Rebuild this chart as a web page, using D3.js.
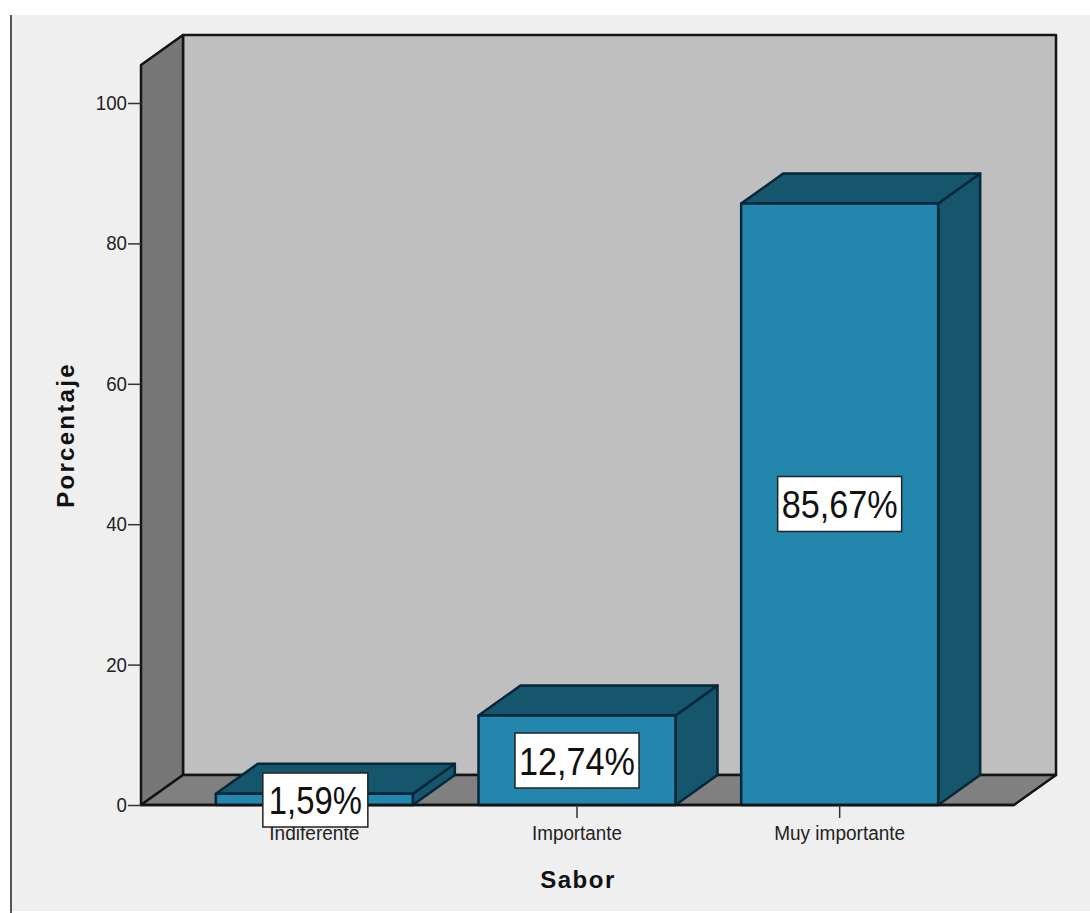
<!DOCTYPE html>
<html><head><meta charset="utf-8">
<script src="https://cdnjs.cloudflare.com/ajax/libs/d3/7.8.5/d3.min.js"></script>
<style>html,body{margin:0;padding:0;background:#fff}svg{display:block}</style></head>
<body><svg id="c" width="1090" height="913"></svg>
<script>
const categories = ["Indiferente","Importante","Muy importante"];
const values = [1.59,12.74,85.67];
const valueLabels = ["1,59%","12,74%","85,67%"];
const yTicks = [0,20,40,60,80,100];
const xTitle = "Sabor", yTitle = "Porcentaje";

const W=1090,H=913,dx=42,dy=-30,x0=141,x1=1014,yBase=805,yTop=65;
const font="'Liberation Sans',Arial,sans-serif";
const svg=d3.select("#c");
const y=d3.scaleLinear().domain([0,100]).range([805,103]);
const x=d3.scaleBand().domain(categories).range([183,971]).paddingInner(.25).paddingOuter(.125);
const stroke="#141414", line=d3.line();
const poly=(pts,fill,s=stroke,w=2.5)=>svg.append("path").attr("d",line(pts)+"Z").attr("fill",fill).attr("stroke",s).attr("stroke-width",w).attr("stroke-linejoin","round");

svg.append("rect").attr("x",12).attr("y",15).attr("width",W-12).attr("height",H-17).attr("fill","#efefef");
svg.append("line").attr("x1",11).attr("x2",11).attr("y1",15).attr("y2",H).attr("stroke","#555").attr("stroke-width",2);

// walls and floor
poly([[x0+dx,yTop+dy],[x1+dx,yTop+dy],[x1+dx,yBase+dy],[x0+dx,yBase+dy]],"#bfbfbf");
poly([[x0,yTop],[x0+dx,yTop+dy],[x0+dx,yBase+dy],[x0,yBase]],"#777777");
poly([[x0,yBase],[x0+dx,yBase+dy],[x1+dx,yBase+dy],[x1,yBase]],"#808080");

// bars
const bs="#06263a";
categories.forEach((c,i)=>{
  const l=x(c),r=l+x.bandwidth(),t=y(values[i]),b=y(0);
  poly([[r,t],[r+dx,t+dy],[r+dx,b+dy],[r,b]],"#15566d",bs);
  poly([[l,t],[l+dx,t+dy],[r+dx,t+dy],[r,t]],"#15566d",bs);
  poly([[l,t],[r,t],[r,b],[l,b]],"#2387ad",bs);
});
svg.append("line").attr("x1",x0).attr("x2",x1).attr("y1",yBase).attr("y2",yBase).attr("stroke",stroke).attr("stroke-width",2.5);

// axes
const yAxis=d3.axisLeft(y).tickValues(yTicks).tickSize(13).tickPadding(1);
const gy=svg.append("g").attr("transform",`translate(${x0},0)`).call(yAxis);
gy.select(".domain").remove();
gy.selectAll("line").attr("stroke","#333").attr("stroke-width",1.5);
gy.selectAll("text").attr("font-family",font).attr("font-size",20).attr("fill","#222")
  .attr("lengthAdjust","spacingAndGlyphs").attr("textLength",d=>String(d).length*10.4);

const xAxis=d3.axisBottom(x).tickSize(13).tickPadding(8);
const gx=svg.append("g").attr("transform",`translate(0,${yBase})`).call(xAxis);
gx.select(".domain").remove();
gx.selectAll("line").attr("stroke","#333").attr("stroke-width",1.5);
gx.selectAll("text").attr("font-family",font).attr("font-size",20).attr("fill","#222")
  .attr("lengthAdjust","spacingAndGlyphs").attr("textLength",(d,i)=>[90,90,131][i]);

svg.append("text").attr("x",578).attr("y",888).attr("text-anchor","middle").attr("font-family",font)
  .attr("font-size",24).attr("font-weight","bold").attr("letter-spacing",1.5).attr("fill","#111").text(xTitle);
svg.append("text").attr("transform","translate(74,435) rotate(-90)").attr("text-anchor","middle").attr("font-family",font)
  .attr("font-size",24).attr("font-weight","bold").attr("letter-spacing",2.3).attr("fill","#111").text(yTitle);

// value labels
const labelCy=[800,760.5,504];
categories.forEach((c,i)=>{
  const cx=x(c)+x.bandwidth()/2+(i==0?1:0), w=i==0?105:124, h=i==0?54:55;
  svg.append("rect").attr("x",cx-w/2).attr("y",labelCy[i]-h/2).attr("width",w).attr("height",h)
    .attr("fill","#fff").attr("stroke","#222").attr("stroke-width",1.5);
  svg.append("text").attr("x",cx).attr("y",labelCy[i]+14).attr("text-anchor","middle").attr("font-family",font)
    .attr("font-size",38).attr("fill","#111")
    .attr("lengthAdjust","spacingAndGlyphs").attr("textLength",i==0?93:116).text(valueLabels[i]);
});
</script></body></html>
